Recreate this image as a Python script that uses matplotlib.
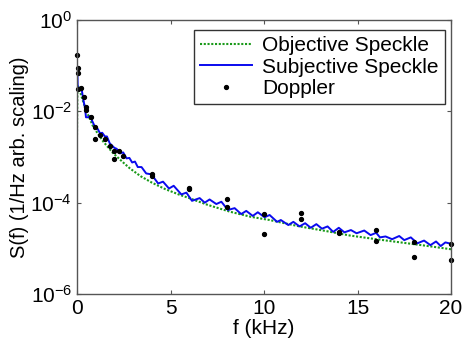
import numpy as np
import matplotlib
matplotlib.use('Agg')
import matplotlib.pyplot as plt

plt.rcParams['font.family'] = ['Liberation Sans', 'DejaVu Sans']
plt.rcParams['font.size'] = 15

# --- Values (frequency in kHz, log10 of S(f)) ---
obj_f = [0.0, 0.02, 0.05, 0.15, 0.3, 0.52, 0.87, 1.4, 1.94, 2.47, 2.83, 3.4, 4.0,
         4.7, 5.5, 6.0, 7.0, 8.2, 9.3, 10.3, 11.9, 13.3, 14.6, 16.0, 17.3, 18.6, 20.0]
obj_log = [-2.52, -1.5, -1.45, -1.55, -1.75, -2.01, -2.34, -2.66, -2.92, -3.12, -3.25,
           -3.42, -3.56, -3.70, -3.83, -3.90, -4.05, -4.20, -4.31, -4.38, -4.52, -4.62,
           -4.72, -4.80, -4.87, -4.94, -5.02]

subj_f = [0.0, 0.02, 0.04, 0.15, 0.25, 0.34, 0.43, 0.48, 0.6, 0.7, 0.8, 0.96, 1.1, 1.23,
          1.35, 1.49, 1.6, 1.75, 1.85, 2.0, 2.12, 2.3, 2.47, 2.65, 2.8, 2.95, 3.1, 3.25,
          3.45, 3.7, 3.98, 4.34, 4.6, 4.92, 5.17, 5.58, 5.85, 6.15, 6.56, 6.83, 7.09,
          7.45, 7.72, 8.07, 8.43, 8.78, 9.05, 9.4, 9.67, 10.03, 10.3, 10.7, 10.9, 11.3,
          11.57, 11.9, 12.2, 12.5, 12.8, 13.1, 13.4, 13.7, 14.0, 14.3, 14.65, 14.95,
          15.36, 15.7, 16.0, 16.2, 16.5, 16.85, 17.23, 17.5, 17.85, 18.2, 18.56, 18.9,
          19.2, 19.45, 19.7, 20.0]
subj_log = [-1.08, -1.10, -1.50, -1.48, -1.52, -1.75, -1.93, -2.13, -2.13, -2.10, -2.20,
            -2.34, -2.38, -2.48, -2.47, -2.55, -2.55, -2.70, -2.74, -2.80, -2.82, -2.92,
            -2.90, -3.03, -3.02, -3.12, -3.10, -3.22, -3.22, -3.36, -3.38, -3.58, -3.54,
            -3.69, -3.63, -3.82, -3.78, -3.96, -3.90, -4.00, -3.93, -4.03, -3.98, -4.16,
            -4.12, -4.25, -4.18, -4.29, -4.21, -4.32, -4.27, -4.42, -4.38, -4.49, -4.42,
            -4.52, -4.45, -4.55, -4.47, -4.57, -4.52, -4.64, -4.55, -4.65, -4.60, -4.67,
            -4.61, -4.71, -4.66, -4.76, -4.74, -4.80, -4.73, -4.82, -4.76, -4.89, -4.83,
            -4.93, -4.85, -4.95, -4.87, -4.90]

dop_f = [0.0, 0.07, 0.08, 0.08, 0.24, 0.37, 0.48, 0.5, 0.73, 0.98, 0.96, 1.24, 1.5,
         1.76, 1.99, 1.98, 2.25, 2.47, 4, 4, 6, 6, 8, 8, 10, 10, 12, 12, 14, 14, 16, 16,
         18, 18, 20, 20]
dop_log = [-0.77, -1.05, -1.15, -1.51, -1.48, -1.68, -1.90, -1.98, -2.13, -2.34, -2.61,
           -2.51, -2.60, -2.75, -2.86, -3.04, -2.87, -2.97, -3.37, -3.41, -3.67, -3.71,
           -3.91, -4.10, -4.25, -4.68, -4.23, -4.35, -4.64, -4.67, -4.60, -4.83, -4.87,
           -5.20, -4.91, -5.26]

x_ticks = [0, 5, 10, 15, 20]
y_ticks = [1e-6, 1e-4, 1e-2, 1e0]

fig = plt.figure(figsize=(4.62, 3.47), dpi=100)
ax = fig.add_axes([77 / 462, 1 - 294 / 347, 374 / 462, 274 / 347])

ax.semilogy(obj_f, 10.0 ** np.array(obj_log), color='#1a9a1a', lw=1.5,
            ls=(0, (1, 0.8)), label='Objective Speckle')
ax.semilogy(subj_f, 10.0 ** np.array(subj_log), '-', color='#0a0aee', lw=1.4,
            label='Subjective Speckle')
ax.semilogy(dop_f, 10.0 ** np.array(dop_log), 'o', color='k', ms=2.8, ls='none',
            clip_on=False, label='Doppler')

ax.set_xlim(0, 20)
ax.set_ylim(1e-6, 1e0)
ax.set_xticks(x_ticks)
ax.set_yticks(y_ticks)
ax.minorticks_off()
ax.tick_params(direction='in', top=True, right=True, length=3, width=0.8,
               colors='#555555', labelcolor='black', labelsize=15)
for s in ax.spines.values():
    s.set_color('#555555')
    s.set_linewidth(1.0)

ax.set_xlabel('f (kHz)', fontsize=15, labelpad=1)
ax.set_ylabel('S(f) (1/Hz arb. scaling)', fontsize=14.5, labelpad=1)

leg = ax.legend(loc='upper right', bbox_to_anchor=(0.984, 0.964), borderaxespad=0,
                fontsize=15, fancybox=False, framealpha=1, edgecolor='#333333',
                handlelength=2.5, handletextpad=0.5, labelspacing=0.12, borderpad=0.3)
leg.get_frame().set_linewidth(1.0)

fig.savefig('out.png', dpi=100)
